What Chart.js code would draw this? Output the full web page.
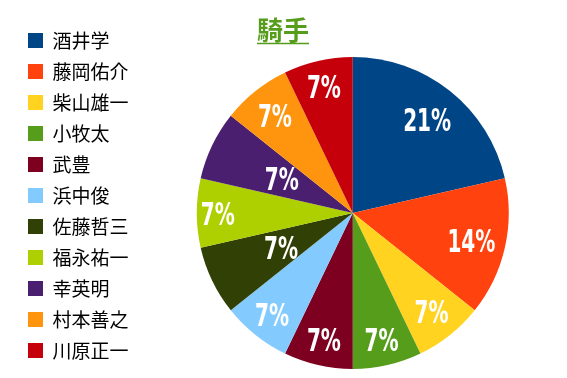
<!DOCTYPE html>
<html>
<head>
<meta charset="utf-8">
<script src="https://cdn.jsdelivr.net/npm/chart.js@4/dist/chart.umd.min.js"></script>
<style>
  html, body { margin: 0; padding: 0; background: #fff; }
  canvas { display: block; }
</style>
</head>
<body>
<canvas id="myChart" width="567" height="378"></canvas>
<script>
// jockeys and their win counts
var jockeys = ['酒井学', '藤岡佑介', '柴山雄一', '小牧太', '武豊', '浜中俊', '佐藤哲三', '福永祐一', '幸英明', '村本善之', '川原正一'];
var wins = [3, 2, 1, 1, 1, 1, 1, 1, 1, 1, 1];
var chartTitle = '騎手';

var colors = ['#004586', '#ff420e', '#ffd320', '#579d1c', '#7e0021', '#83caff',
              '#314004', '#aecf00', '#4b1f6f', '#ff950e', '#c5000b'];
// how far out each percent label sits, as a share of the radius
var labelPos = [0.765, 0.78, 0.81, 0.83, 0.83, 0.83, 0.51, 0.865, 0.505, 0.8, 0.83];

var pctLabels = {
    id: 'pctLabels',
    afterDatasetsDraw: function(chart) {
        var ctx = chart.ctx;
        var meta = chart.getDatasetMeta(0);
        var data = chart.data.datasets[0].data;
        var total = data.reduce(function(a, b) { return a + b; }, 0);
        ctx.save();
        ctx.fillStyle = '#fff';
        ctx.font = 'bold 32px "DejaVu Sans", sans-serif';
        ctx.textAlign = 'center';
        ctx.textBaseline = 'alphabetic';
        // squeeze so that "21%" is about 48px wide, like a condensed face
        var sx = 48 / ctx.measureText('21%').width;
        meta.data.forEach(function(arc, i) {
            var p = arc.getProps(['x', 'y', 'startAngle', 'endAngle', 'outerRadius'], true);
            var mid = (p.startAngle + p.endAngle) / 2;
            var r = p.outerRadius * labelPos[i];
            var txt = Math.round(data[i] / total * 100) + '%';
            var m = ctx.measureText(txt);
            var dy = (m.actualBoundingBoxAscent - m.actualBoundingBoxDescent) / 2;
            ctx.save();
            ctx.translate(p.x + Math.cos(mid) * r, p.y + Math.sin(mid) * r + dy);
            ctx.scale(sx, 1);
            ctx.fillText(txt, 0, 0);
            ctx.restore();
        });
        ctx.restore();
    }
};

var titleDraw = {
    id: 'titleDraw',
    afterDraw: function(chart) {
        var ctx = chart.ctx;
        ctx.save();
        ctx.fillStyle = '#579d1c';
        ctx.strokeStyle = '#579d1c';
        ctx.font = 'bold 26px "Noto Sans CJK JP", sans-serif';
        ctx.textAlign = 'center';
        ctx.textBaseline = 'middle';
        ctx.fillText(chartTitle, 283, 30);
        var w = ctx.measureText(chartTitle).width;
        ctx.lineWidth = 1.5;
        ctx.beginPath();
        ctx.moveTo(283 - w / 2, 43.5);
        ctx.lineTo(283 + w / 2, 43.5);
        ctx.stroke();
        ctx.restore();
    }
};

var ctx = document.getElementById('myChart').getContext('2d');
var chart = new Chart(ctx, {
    type: 'pie',
    data: {
        labels: jockeys,
        datasets: [{
            data: wins,
            backgroundColor: colors,
            borderWidth: 0,
            radius: 156
        }]
    },
    options: {
        responsive: false,
        animation: false,
        devicePixelRatio: 1,
        layout: { padding: { top: 19, bottom: 0, left: 16, right: 0 } },
        plugins: {
            legend: {
                position: 'left',
                align: 'start',
                labels: {
                    boxWidth: 15,
                    boxHeight: 15,
                    padding: 12,
                    color: '#000',
                    font: { family: '"Noto Sans CJK JP", sans-serif', size: 19 }
                }
            },
            // empty spacer above the pie only; the real title is drawn by titleDraw
            title: {
                display: true,
                fullSize: false,
                text: ' ',
                color: 'rgba(0,0,0,0)',
                font: { size: 20, lineHeight: 1.2 },
                padding: { top: 5, bottom: 0 }
            },
            tooltip: { enabled: false }
        }
    },
    plugins: [pctLabels, titleDraw]
});
</script>
</body>
</html>
